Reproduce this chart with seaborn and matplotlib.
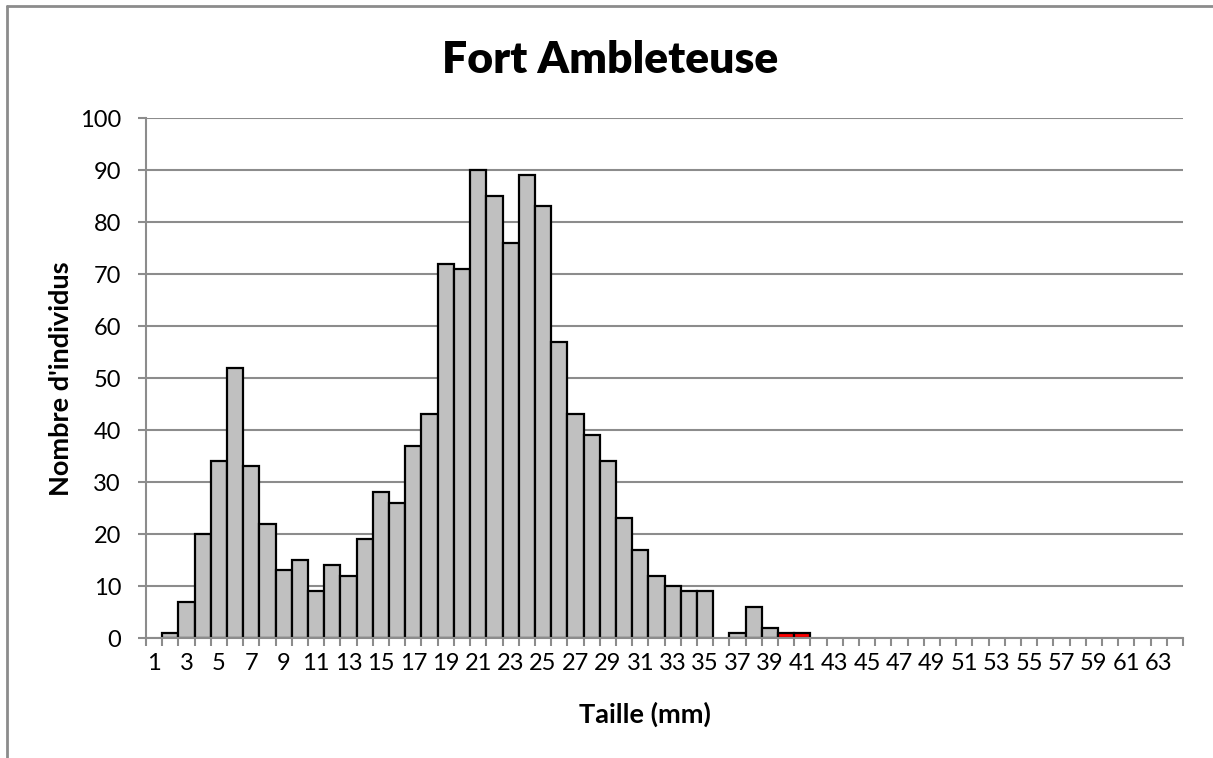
import matplotlib
matplotlib.use('Agg')
import matplotlib.pyplot as plt
import seaborn as sns
import pandas as pd
from matplotlib.ticker import FixedLocator

# Size classes (mm) and counts
sizes = list(range(1, 65))
counts = [0, 1, 7, 20, 34, 52, 33, 22, 13, 15,
          9, 14, 12, 19, 28, 26, 37, 43, 72, 71,
          90, 85, 76, 89, 83, 57, 43, 39, 34, 23,
          17, 12, 10, 9, 9, 0, 1, 6, 2, 1,
          1] + [0] * 23
highlight = [40, 41]

title = 'Fort Ambleteuse'
xlabel = 'Taille (mm)'
ylabel = "Nombre d'individus"
y_ticks = list(range(0, 101, 10))

sns.set_style('white')
plt.rcParams['font.family'] = ['Lato', 'DejaVu Sans']
plt.rcParams['text.color'] = 'black'
plt.rcParams['xtick.labelcolor'] = 'black'
plt.rcParams['ytick.labelcolor'] = 'black'

df = pd.DataFrame({'Taille': [str(s) for s in sizes], 'N': counts})
colors = {str(s): ('#ff0000' if s in highlight else '#c0c0c0') for s in sizes}

fig = plt.figure(figsize=(12.13, 7.58), dpi=100)
ax = fig.add_axes([0.1204, 0.1583, 0.8549, 0.686])

sns.barplot(data=df, x='Taille', y='N', hue='Taille', palette=colors,
            legend=False, width=1.0, edgecolor='black', linewidth=1.6,
            saturation=1, ax=ax)
for p in ax.patches:
    if p.get_height() == 0:
        p.set_linewidth(0)

ax.set_xlim(-0.5, len(sizes) - 0.5)
ax.set_ylim(0, 100)
ax.set_yticks(y_ticks)
ax.tick_params(axis='y', labelsize=17, length=6, width=1.5, color='#8c8c8c',
               left=True, pad=12)
ax.yaxis.grid(True, color='#8c8c8c', linewidth=1.5)
ax.set_axisbelow(True)

major = list(range(0, len(sizes), 2))
ax.set_xticks(major)
ax.set_xticklabels([str(sizes[i]) for i in major])
ax.xaxis.set_minor_locator(FixedLocator([i - 0.5 for i in range(len(sizes) + 1)]))
ax.tick_params(axis='x', which='major', length=0, labelsize=17, pad=11)
ax.tick_params(axis='x', which='minor', length=6, width=1.5, color='#8c8c8c',
               bottom=True)

for side in ['top', 'right']:
    ax.spines[side].set_visible(False)
for side in ['left', 'bottom']:
    ax.spines[side].set_color('#8c8c8c')
    ax.spines[side].set_linewidth(1.5)

ax.set_xlabel('')
ax.set_ylabel('')
fig.text(0.503, 0.921, title, ha='center', va='center', fontsize=32,
         fontweight='heavy')
fig.text(0.532, 0.057, xlabel, ha='center', va='center', fontsize=19.5,
         fontweight='bold')
fig.text(0.05, 0.5, ylabel, ha='center', va='center', fontsize=19.5,
         fontweight='bold', rotation=90)

# outer chart frame (top and left edges visible)
fig.add_artist(plt.Line2D([0.0058, 0.0058], [0.0, 0.992], color='#8c8c8c',
                          linewidth=2, transform=fig.transFigure))
fig.add_artist(plt.Line2D([0.0058, 1.0], [0.992, 0.992], color='#8c8c8c',
                          linewidth=2, transform=fig.transFigure))

plt.savefig('out.png', dpi=100)
plt.close()
